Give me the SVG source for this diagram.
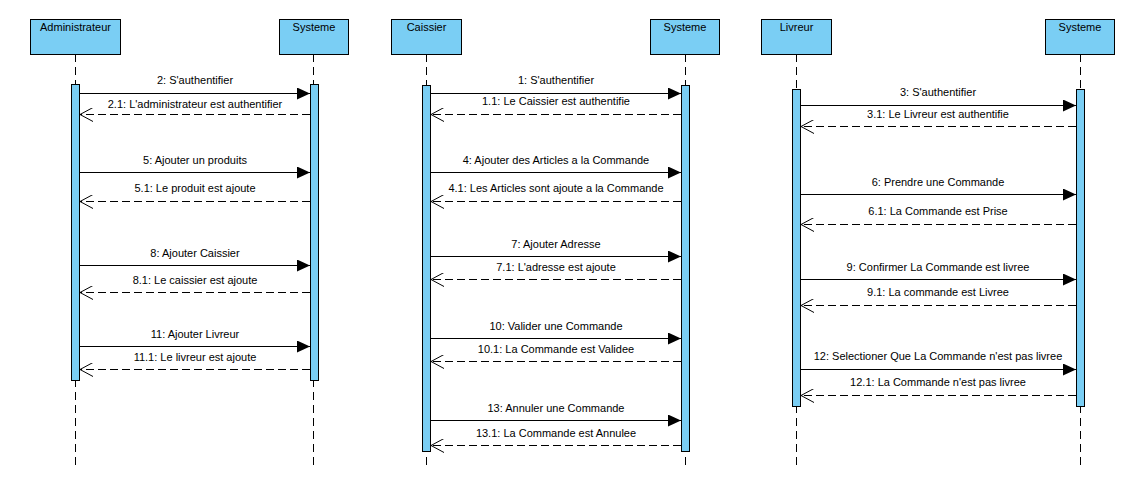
<svg xmlns="http://www.w3.org/2000/svg" width="1131" height="482" viewBox="0 0 1131 482">
<style>
.box{fill:#7ACEF4;stroke:#000;stroke-width:1}
.act{fill:#7ACEF4;stroke:#000;stroke-width:1}
.life{stroke:#000;stroke-width:1;stroke-dasharray:8 5;fill:none}
.msg{stroke:#000;stroke-width:1;fill:none}
.ret{stroke:#000;stroke-width:1;stroke-dasharray:8 4;fill:none}
text{font-family:"Liberation Sans",Arial,sans-serif;font-size:11px;fill:#000;text-anchor:middle}
</style>
<defs>
<marker id="sync" markerWidth="14" markerHeight="12" refX="13" refY="6" orient="auto" markerUnits="userSpaceOnUse">
<path d="M0,0 L13,6 L0,12 Z" fill="#000"/>
</marker>
<marker id="open" markerWidth="14" markerHeight="14" refX="13" refY="7" orient="auto" markerUnits="userSpaceOnUse">
<path d="M0,0 L13,7 L0,14" fill="none" stroke="#000" stroke-width="1"/>
</marker>
</defs>
<rect width="1131" height="482" fill="#fff"/>

<g id="admin">
<line class="life" x1="75.5" y1="54" x2="75.5" y2="470"/>
<rect class="box" x="30.5" y="19.5" width="90" height="35"/>
<text x="75.5" y="31">Administrateur</text>
<rect class="act" x="71.5" y="84.5" width="8" height="296"/>
</g>
<g id="sys1">
<line class="life" x1="313.5" y1="54" x2="313.5" y2="470"/>
<rect class="box" x="279.5" y="19.5" width="69" height="35"/>
<text x="314" y="31">Systeme</text>
<rect class="act" x="310.5" y="84.5" width="8" height="296"/>
</g>
<g id="caissier">
<line class="life" x1="426.5" y1="54" x2="426.5" y2="470"/>
<rect class="box" x="391.5" y="19.5" width="70" height="35"/>
<text x="426.5" y="31">Caissier</text>
<rect class="act" x="422.5" y="85.5" width="8" height="366"/>
</g>
<g id="sys2">
<line class="life" x1="685.5" y1="54" x2="685.5" y2="470"/>
<rect class="box" x="650.5" y="19.5" width="69" height="35"/>
<text x="685" y="31">Systeme</text>
<rect class="act" x="681.5" y="85.5" width="8" height="366"/>
</g>
<g id="livreur">
<line class="life" x1="796.5" y1="54" x2="796.5" y2="470"/>
<rect class="box" x="761.5" y="19.5" width="70" height="35"/>
<text x="796.5" y="31">Livreur</text>
<rect class="act" x="792.5" y="89.5" width="8" height="317"/>
</g>
<g id="sys3">
<line class="life" x1="1080.5" y1="54" x2="1080.5" y2="470"/>
<rect class="box" x="1045.5" y="19.5" width="69" height="35"/>
<text x="1080" y="31">Systeme</text>
<rect class="act" x="1076.5" y="89.5" width="8" height="317"/>
</g>

<g id="connectors">
<!-- Admin -->
<line class="msg" x1="80" y1="93.5" x2="310" y2="93.5" marker-end="url(#sync)"/>
<text x="195" y="84">2: S'authentifier</text>
<line class="ret" x1="310" y1="114.5" x2="80" y2="114.5" marker-end="url(#open)"/>
<text x="195" y="108">2.1: L'administrateur est authentifier</text>
<line class="msg" x1="80" y1="172.5" x2="310" y2="172.5" marker-end="url(#sync)"/>
<text x="195" y="164">5: Ajouter un produits</text>
<line class="ret" x1="310" y1="201.5" x2="80" y2="201.5" marker-end="url(#open)"/>
<text x="195" y="192">5.1: Le produit est ajoute</text>
<line class="msg" x1="80" y1="265.5" x2="310" y2="265.5" marker-end="url(#sync)"/>
<text x="195" y="257">8: Ajouter Caissier</text>
<line class="ret" x1="310" y1="292.5" x2="80" y2="292.5" marker-end="url(#open)"/>
<text x="195" y="284">8.1: Le caissier est ajoute</text>
<line class="msg" x1="80" y1="346.5" x2="310" y2="346.5" marker-end="url(#sync)"/>
<text x="195" y="338">11: Ajouter Livreur</text>
<line class="ret" x1="310" y1="369.5" x2="80" y2="369.5" marker-end="url(#open)"/>
<text x="195" y="361">11.1: Le livreur est ajoute</text>
<!-- Caissier -->
<line class="msg" x1="431" y1="93.5" x2="681" y2="93.5" marker-end="url(#sync)"/>
<text x="556" y="84">1: S'authentifier</text>
<line class="ret" x1="681" y1="114.5" x2="431" y2="114.5" marker-end="url(#open)"/>
<text x="556" y="105">1.1: Le Caissier est authentifie</text>
<line class="msg" x1="431" y1="172.5" x2="681" y2="172.5" marker-end="url(#sync)"/>
<text x="556" y="164">4: Ajouter des Articles a la Commande</text>
<line class="ret" x1="681" y1="201.5" x2="431" y2="201.5" marker-end="url(#open)"/>
<text x="556" y="192">4.1: Les Articles sont ajoute a la Commande</text>
<line class="msg" x1="431" y1="256.5" x2="681" y2="256.5" marker-end="url(#sync)"/>
<text x="556" y="248">7: Ajouter Adresse</text>
<line class="ret" x1="681" y1="279.5" x2="431" y2="279.5" marker-end="url(#open)"/>
<text x="556" y="271">7.1: L'adresse est ajoute</text>
<line class="msg" x1="431" y1="338.5" x2="681" y2="338.5" marker-end="url(#sync)"/>
<text x="556" y="330">10: Valider une Commande</text>
<line class="ret" x1="681" y1="361.5" x2="431" y2="361.5" marker-end="url(#open)"/>
<text x="556" y="353">10.1: La Commande est Validee</text>
<line class="msg" x1="431" y1="420.5" x2="681" y2="420.5" marker-end="url(#sync)"/>
<text x="556" y="412">13: Annuler une Commande</text>
<line class="ret" x1="681" y1="445.5" x2="431" y2="445.5" marker-end="url(#open)"/>
<text x="556" y="437">13.1: La Commande est Annulee</text>
<!-- Livreur -->
<line class="msg" x1="801" y1="105.5" x2="1076" y2="105.5" marker-end="url(#sync)"/>
<text x="938" y="96">3: S'authentifier</text>
<line class="ret" x1="1076" y1="126.5" x2="801" y2="126.5" marker-end="url(#open)"/>
<text x="938" y="118">3.1: Le Livreur est authentifie</text>
<line class="msg" x1="801" y1="194.5" x2="1076" y2="194.5" marker-end="url(#sync)"/>
<text x="938" y="186">6: Prendre une Commande</text>
<line class="ret" x1="1076" y1="224.5" x2="801" y2="224.5" marker-end="url(#open)"/>
<text x="938" y="215">6.1: La Commande est Prise</text>
<line class="msg" x1="801" y1="279.5" x2="1076" y2="279.5" marker-end="url(#sync)"/>
<text x="938" y="271">9: Confirmer La Commande est livree</text>
<line class="ret" x1="1076" y1="305.5" x2="801" y2="305.5" marker-end="url(#open)"/>
<text x="938" y="296">9.1: La commande est Livree</text>
<line class="msg" x1="801" y1="369.5" x2="1076" y2="369.5" marker-end="url(#sync)"/>
<text x="938" y="360">12: Selectioner Que La Commande n'est pas livree</text>
<line class="ret" x1="1076" y1="395.5" x2="801" y2="395.5" marker-end="url(#open)"/>
<text x="938" y="386">12.1: La Commande n'est pas livree</text>
</g>
</svg>
